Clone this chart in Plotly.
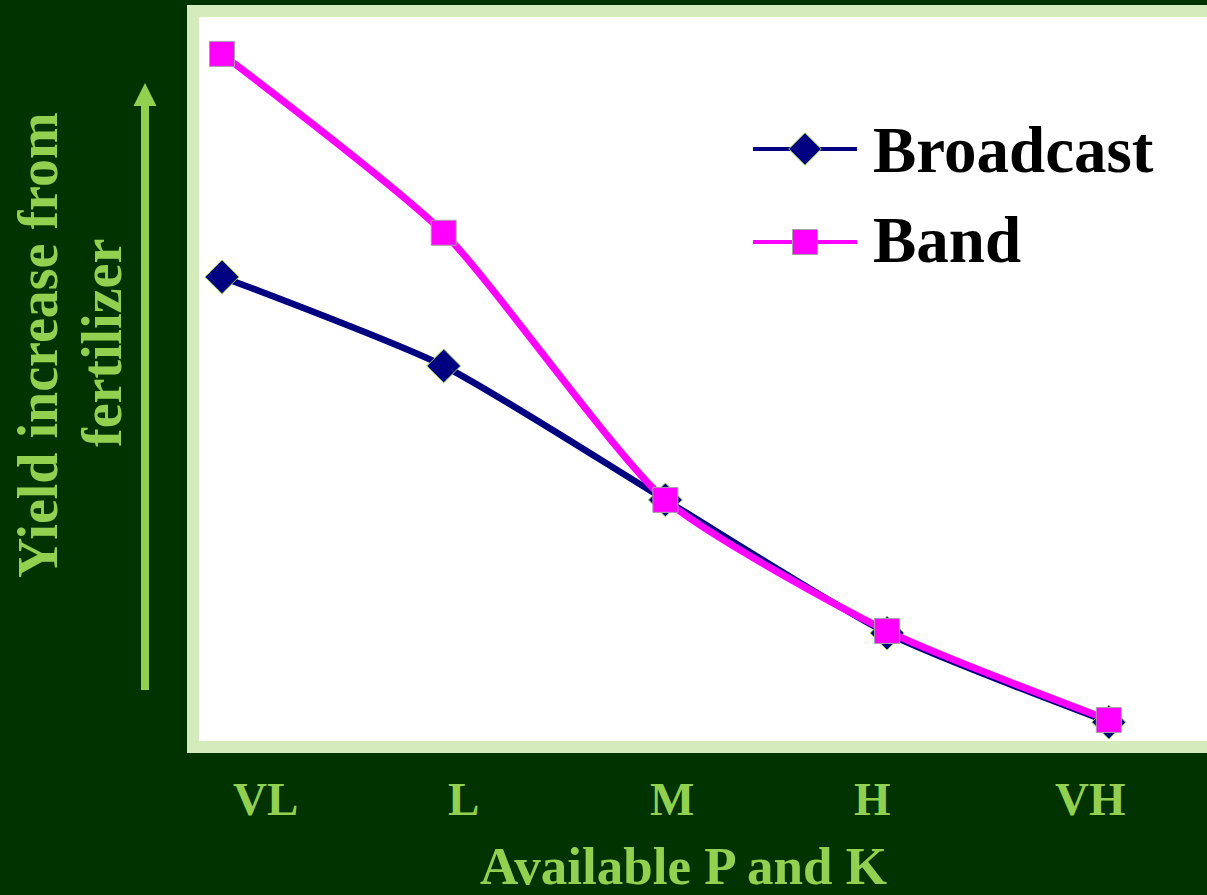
import plotly.graph_objects as go

# Soil test levels and relative yield response for two placement methods
levels = ["VL", "L", "M", "H", "VH"]
broadcast = [64.1, 51.8, 33.3, 14.9, 2.6]
band = [94.9, 70.2, 33.3, 15.2, 2.9]

series_names = ["Broadcast", "Band"]
x_title = "Available P and K"
y_title_lines = ["Yield increase from", "fertilizer"]

# Colours
BG = "#003300"
FRAME = "#d4ecbc"
ACCENT = "#92d050"
NAVY = "#000080"
MAGENTA = "#ff00ff"
SERIF = "Liberation Serif"

W, H = 1207, 895
ML, MR, MT, MB = 199, 0, 17, 154
PW, PH = W - ML - MR, H - MT - MB


def px(x):
    return (x - ML) / PW


def py(y):
    return (H - MB - y) / PH


fig = go.Figure()

fig.add_trace(go.Scatter(
    x=levels, y=broadcast, name=series_names[0], mode="lines+markers",
    line=dict(color=NAVY, width=6.5, shape="spline", smoothing=0.6),
    marker=dict(symbol="diamond", size=26, color=NAVY,
                line=dict(color=ACCENT, width=1)),
    cliponaxis=False, showlegend=False,
))
fig.add_trace(go.Scatter(
    x=levels, y=band, name=series_names[1], mode="lines+markers",
    line=dict(color=MAGENTA, width=7, shape="spline", smoothing=0.6),
    marker=dict(symbol="square", size=25, color=MAGENTA,
                line=dict(color="#a8a0a8", width=1)),
    cliponaxis=False, showlegend=False,
))

# Legend keys drawn on an overlay axis spanning the plot area
key_rows = [
    (py(149), NAVY, 4, "diamond", 25, ACCENT),
    (py(242), MAGENTA, 4, "square", 25, "#a8a0a8"),
]
for yk, col, lw, sym, ms, mlc in key_rows:
    fig.add_trace(go.Scatter(
        x=[px(753), px(857)], y=[yk, yk], mode="lines",
        line=dict(color=col, width=lw), xaxis="x2", yaxis="y2",
        showlegend=False, hoverinfo="skip",
    ))
    fig.add_trace(go.Scatter(
        x=[px(805)], y=[yk], mode="markers",
        marker=dict(symbol=sym, size=ms, color=col, line=dict(color=mlc, width=1)),
        xaxis="x2", yaxis="y2", showlegend=False, hoverinfo="skip",
    ))

annotations = []
for name, yc in zip(series_names, [149.5, 240]):
    annotations.append(dict(
        x=px(871), y=py(yc), xref="paper", yref="paper", text=name,
        showarrow=False, xanchor="left", yanchor="middle",
        font=dict(family=SERIF, size=65, color="black", weight="bold"),
    ))

# Category labels along the bottom
label_x = [265, 463, 672, 872, 1090]
for lab, lx in zip(levels, label_x):
    annotations.append(dict(
        x=px(lx), y=py(798.5), xref="paper", yref="paper", text=lab,
        showarrow=False, xanchor="center", yanchor="middle",
        font=dict(family=SERIF, size=47, color=ACCENT, weight="bold"),
    ))

annotations.append(dict(
    x=px(683), y=py(866), xref="paper", yref="paper", text=x_title,
    showarrow=False, xanchor="center", yanchor="middle",
    font=dict(family=SERIF, size=53, color=ACCENT, weight="bold"),
))
for line, lx, ly in zip(y_title_lines, [38, 102], [345, 343]):
    annotations.append(dict(
        x=px(lx), y=py(ly), xref="paper", yref="paper", text=line,
        showarrow=False, textangle=-90, xanchor="center", yanchor="middle",
        font=dict(family=SERIF, size=56, color=ACCENT, weight="bold"),
    ))

shapes = [
    dict(type="rect", xref="paper", yref="paper", layer="below",
         x0=px(187), x1=px(1215), y0=py(753), y1=py(5),
         fillcolor=FRAME, line=dict(width=0)),
    dict(type="rect", xref="paper", yref="paper", layer="below",
         x0=px(199), x1=px(1215), y0=py(741), y1=py(17),
         fillcolor="white", line=dict(width=0)),
    # upward arrow beside the y title
    dict(type="line", xref="paper", yref="paper",
         x0=px(145), x1=px(145), y0=py(690), y1=py(104),
         line=dict(color=ACCENT, width=8)),
    dict(type="path", xref="paper", yref="paper",
         path=f"M {px(133.5)} {py(106)} L {px(145)} {py(83)} L {px(156.5)} {py(106)} Z",
         fillcolor=ACCENT, line=dict(color=ACCENT, width=0)),
]

fig.update_layout(
    width=W, height=H,
    margin=dict(l=ML, r=MR, t=MT, b=MB, pad=0),
    paper_bgcolor=BG, plot_bgcolor="white",
    xaxis=dict(type="category", range=[-0.1037, 4.443], visible=False, fixedrange=True),
    yaxis=dict(range=[0, 100], visible=False, fixedrange=True),
    xaxis2=dict(overlaying="x", range=[0, 1], visible=False, fixedrange=True),
    yaxis2=dict(overlaying="y", range=[0, 1], visible=False, fixedrange=True),
    annotations=annotations, shapes=shapes,
)

fig.write_html("out.html")
